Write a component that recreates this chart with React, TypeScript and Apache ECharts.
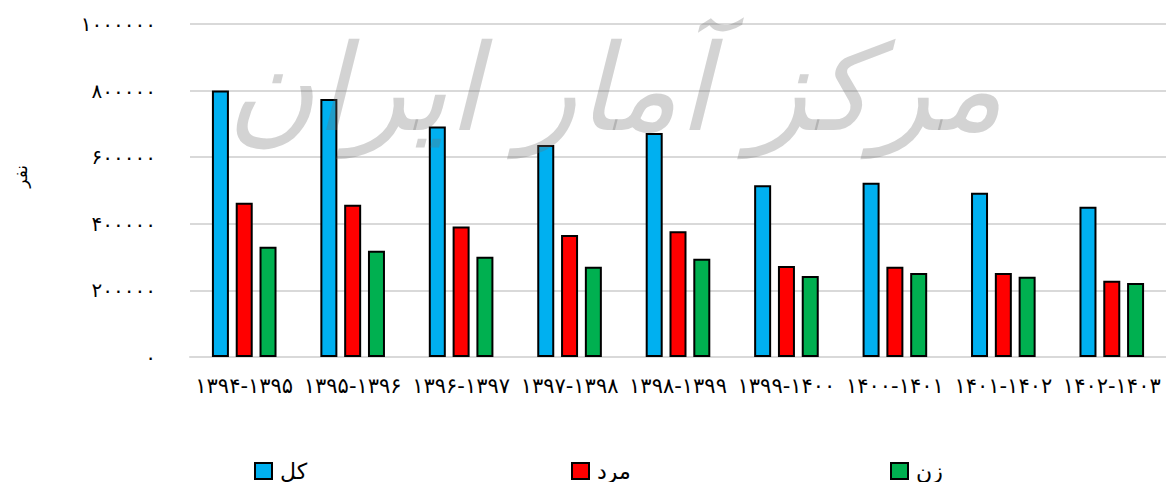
import React, { useEffect, useRef } from "react";
import * as echarts from "echarts";

const categories = [
  "۱۳۹۴-۱۳۹۵",
  "۱۳۹۵-۱۳۹۶",
  "۱۳۹۶-۱۳۹۷",
  "۱۳۹۷-۱۳۹۸",
  "۱۳۹۸-۱۳۹۹",
  "۱۳۹۹-۱۴۰۰",
  "۱۴۰۰-۱۴۰۱",
  "۱۴۰۱-۱۴۰۲",
  "۱۴۰۲-۱۴۰۳",
];
const totalValues = [800000, 775000, 692000, 637000, 673000, 516000, 523000, 493000, 451000];
const maleValues = [463000, 457000, 392000, 366000, 378000, 273000, 271000, 252000, 229000];
const femaleValues = [331000, 319000, 301000, 271000, 295000, 243000, 252000, 241000, 222000];
const seriesNames = ["کل", "مرد", "زن"];
const seriesColors = ["#00B0F0", "#FF0000", "#00B050"];
const yAxisName = "نفر";
const watermarkText = "مرکز آمار ایران";

const toPersian = (v: number | string) =>
  String(v).replace(/[0-9]/g, (d) => "۰۱۲۳۴۵۶۷۸۹"[+d]);

const FONT = "'DejaVu Sans', sans-serif";

export default function App() {
  const ref = useRef<HTMLDivElement>(null);
  useEffect(() => {
    if (!ref.current) return;
    const chart = echarts.init(ref.current, undefined, { renderer: "svg" });
    const seriesData = [totalValues, maleValues, femaleValues];
    const legendLefts = [254, 571, 890];
    chart.setOption({
      animation: false,
      backgroundColor: "#ffffff",
      grid: { left: 190, right: 0, top: 24, bottom: 125, containLabel: false },
      xAxis: {
        type: "category",
        data: categories,
        axisLine: { show: true, lineStyle: { color: "#d9d9d9", width: 2 } },
        axisTick: { show: false },
        axisLabel: {
          color: "#000",
          fontFamily: FONT,
          fontSize: 21,
          margin: 18,
          interval: 0,
        },
      },
      yAxis: {
        type: "value",
        min: 0,
        max: 1000000,
        interval: 200000,
        axisLine: { show: false },
        axisTick: { show: false },
        splitLine: { lineStyle: { color: "#d9d9d9", width: 2 } },
        axisLabel: {
          color: "#000",
          fontFamily: FONT,
          fontSize: 20,
          margin: 34,
          formatter: (v: number) => toPersian(v),
        },
      },
      legend: seriesNames.map((name, i) => ({
        data: [name],
        left: legendLefts[i],
        top: 460,
        padding: 0,
        itemWidth: 17,
        itemHeight: 16,
        icon: "rect",
        itemStyle: { borderColor: "#000", borderWidth: 2 },
        textStyle: {
          color: "#000",
          fontFamily: FONT,
          fontSize: 22,
          lineHeight: 20,
          padding: [0, 0, 0, 3],
        },
        selectedMode: false,
      })),
      series: seriesNames.map((name, i) => ({
        name,
        type: "bar",
        data: seriesData[i],
        barWidth: 17,
        barGap: "40%",
        itemStyle: { color: seriesColors[i], borderColor: "#000", borderWidth: 2 },
      })),
      graphic: [
        {
          type: "text",
          left: 12,
          top: 165,
          rotation: Math.PI / 2,
          style: {
            text: yAxisName,
            fill: "#000",
            font: `17px ${FONT}`,
          },
        },
        {
          type: "text",
          x: 615,
          y: 88,
          z: 100,
          silent: true,
          style: {
            text: watermarkText,
            fill: "rgba(110,110,110,0.3)",
            font: `italic 120px ${FONT}`,
            align: "center",
            verticalAlign: "middle",
          },
        },
      ],
    });
    return () => chart.dispose();
  }, []);
  return (
    <div
      ref={ref}
      style={{ position: "fixed", left: 0, top: 0, width: 1166, height: 482 }}
    />
  );
}
